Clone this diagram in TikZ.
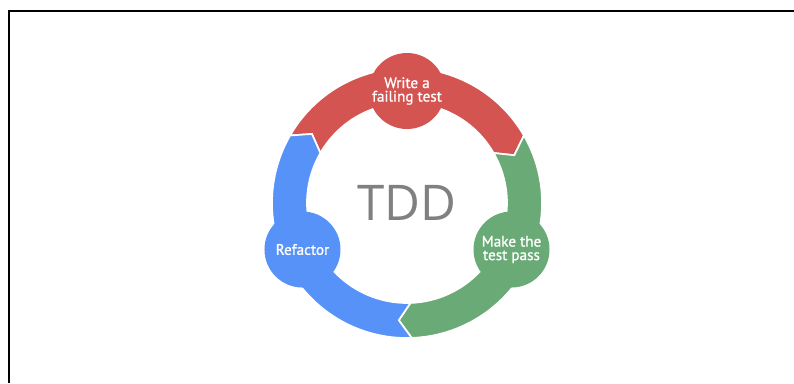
\documentclass[tikz,border=0pt]{standalone}
\usepackage{fontspec}
\setmainfont{PT Sans}
\newfontfamily\phasefont[FakeBold=1]{PT Sans}
\newfontfamily\hubfont{Open Sans}
\usepackage{tikz}
\usetikzlibrary{calc, positioning}
\definecolor{failred}{RGB}{212,84,82}
\definecolor{passgreen}{RGB}{106,170,118}
\definecolor{refblue}{RGB}{86,146,247}
\definecolor{tddgray}{RGB}{128,128,128}
\newcommand{\ringout}{3.375}
\newcommand{\ringin}{2.5}
\newcommand{\ringmid}{2.9375}
% one arc of the cycle, from #2 down to #3 degrees, tip pointing clockwise
\newcommand{\stage}[3]{
    \filldraw[fill=#1, draw=white, line width=1.2pt]
    (#2:\ringout) arc[start angle=#2, end angle=#3, radius=\ringout]
    -- ({#3-6}:\ringmid) -- (#3:\ringin)
    arc[start angle=#3, end angle=#2, radius=\ringin]
    -- ({#2-6}:\ringmid) -- cycle;
}
\tikzset{
    phase/.style={circle, minimum size=1.9cm, inner sep=0pt, text=white,
        align=center, font=\phasefont\fontsize{10.8}{9.6}\selectfont}
}

\begin{document}
\begin{tikzpicture}
    \useasboundingbox (-10.175,-4.5) rectangle (9.675,5.075);
    \draw[line width=1.4pt] (-9.95,-4.5) -- (-9.95,4.8) -- (9.675,4.8);
    \stage{failred}{150}{30}
    \stage{passgreen}{30}{-88}
    \stage{refblue}{272}{150}
    \node[phase, fill=failred] (write) at (90:2.8) {Write a\\failing test};
    \node[phase, fill=passgreen] (pass) at (336:2.86) {Make the\\test pass};
    \node[phase, fill=refblue] (refactor) at (204:2.86) {Refactor};
    \node[text=tddgray, font=\hubfont\fontsize{35}{40}\selectfont] (tdd) at (0,0) {TDD};
\end{tikzpicture}
\end{document}
